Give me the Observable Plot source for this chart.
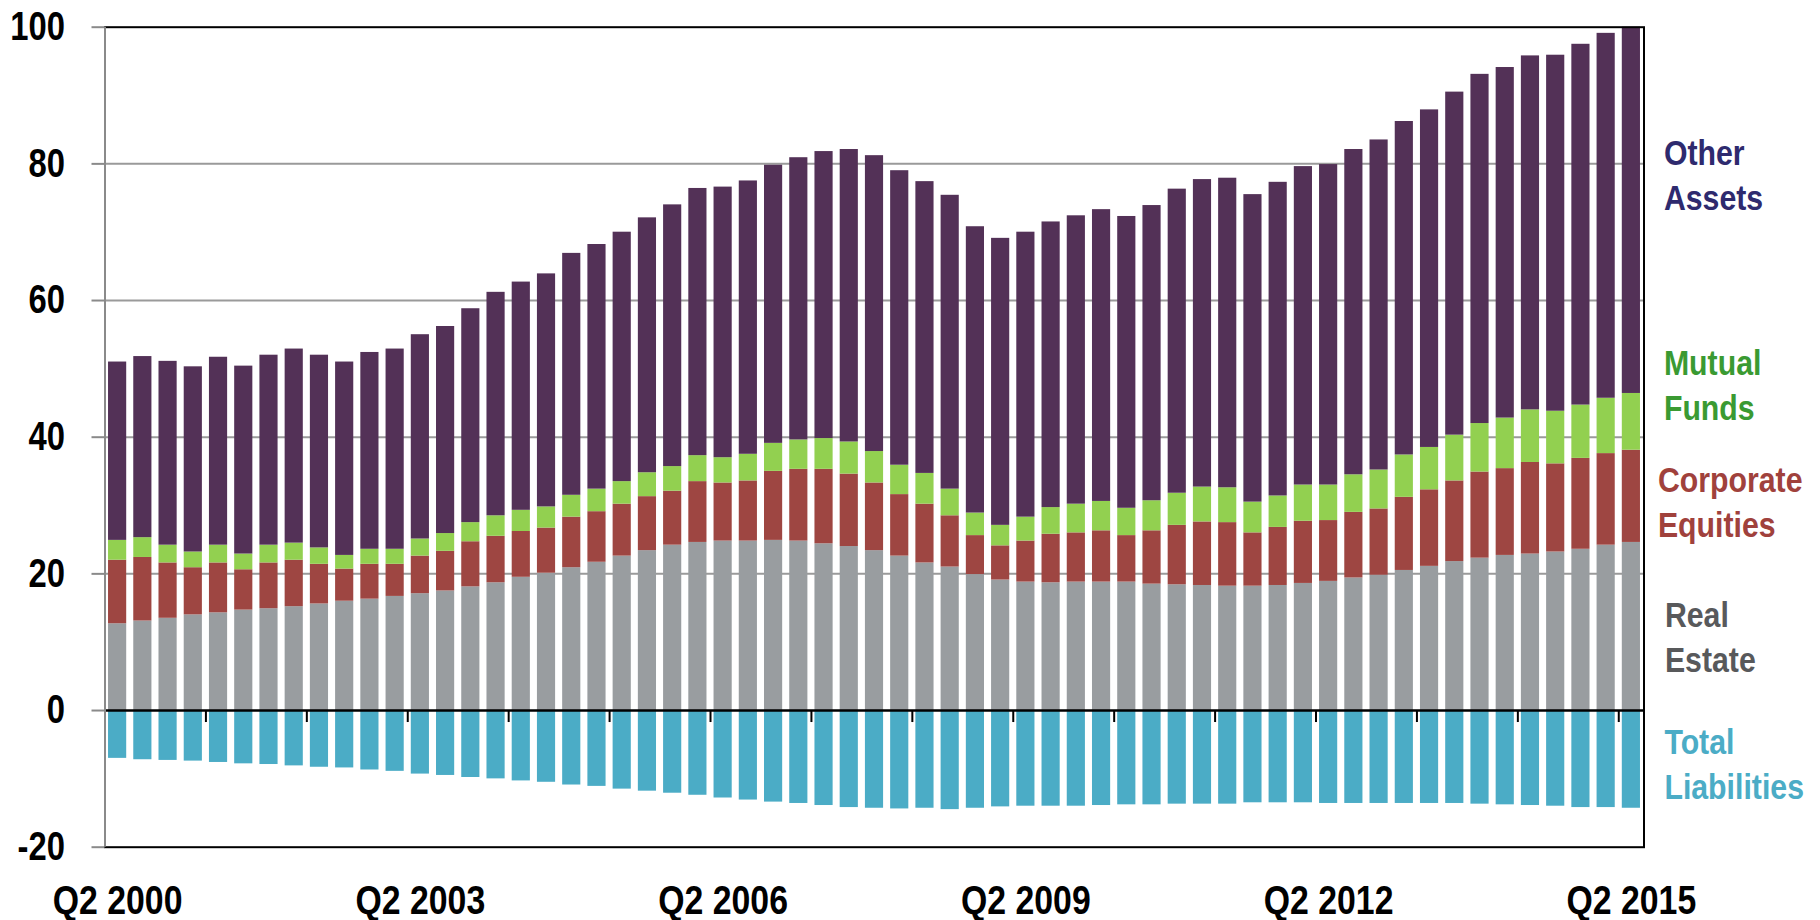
<!DOCTYPE html>
<html>
<head>
<meta charset="utf-8">
<script src="https://cdn.jsdelivr.net/npm/d3@7"></script>
<script src="https://cdn.jsdelivr.net/npm/@observablehq/plot@0.6"></script>
<style>
  html, body { margin: 0; padding: 0; background: #fff; }
  #chart svg { display: block; }
</style>
</head>
<body>
<div id="chart"></div>
<script>
// ---- data ----
const quarters = [];
for (let y = 2000; y <= 2015; y++) {
  for (let q = 1; q <= 4; q++) {
    if ((y === 2000 && q < 2) || (y === 2015 && q > 2)) continue;
    quarters.push(`Q${q} ${y}`);
  }
}
const seriesNames = ["Real Estate", "Corporate Equities", "Mutual Funds", "Other Assets", "Total Liabilities"];
const realEstate = [12.7,13.1,13.5,14.0,14.3,14.7,14.9,15.2,15.6,16.0,16.3,16.7,17.1,17.5,18.1,18.7,19.5,20.1,20.9,21.7,22.6,23.4,24.2,24.6,24.8,24.8,24.9,24.8,24.4,24.0,23.4,22.6,21.6,21.0,19.9,19.1,18.8,18.7,18.8,18.8,18.8,18.5,18.4,18.3,18.2,18.2,18.3,18.6,18.9,19.4,19.8,20.5,21.1,21.8,22.3,22.7,22.9,23.2,23.6,24.2,24.6];
const corporateEquities = [9.3,9.3,8.1,6.9,7.3,5.9,6.7,6.8,5.8,4.7,5.1,4.7,5.5,5.8,6.6,6.8,6.7,6.6,7.4,7.4,7.6,7.9,7.9,8.9,8.5,8.8,10.1,10.5,10.9,10.6,9.9,9.0,8.6,7.5,5.7,5.0,6.0,7.1,7.2,7.5,6.8,7.8,8.7,9.3,9.3,7.8,8.5,9.1,8.9,9.6,9.7,10.7,11.2,11.8,12.6,12.7,13.4,12.9,13.3,13.4,13.5];
const mutualFunds = [2.9,2.9,2.6,2.3,2.6,2.3,2.6,2.5,2.4,2.0,2.2,2.2,2.5,2.6,2.8,3.0,3.1,3.1,3.2,3.3,3.3,3.5,3.6,3.8,3.7,3.9,4.1,4.3,4.5,4.7,4.6,4.3,4.5,3.9,3.3,3.0,3.5,3.9,4.2,4.3,4.0,4.4,4.7,5.1,5.1,4.5,4.6,5.3,5.2,5.5,5.7,6.2,6.2,6.7,7.1,7.4,7.7,7.7,7.8,8.1,8.3];
const otherAssets = [26.1,26.5,26.9,27.1,27.5,27.5,27.8,28.4,28.2,28.3,28.8,29.3,29.9,30.3,31.3,32.7,33.4,34.1,35.4,35.8,36.5,37.3,38.3,39.1,39.6,40.0,40.7,41.3,42.0,42.8,43.3,43.1,42.7,43.0,41.9,42.0,41.7,41.8,42.2,42.7,42.7,43.2,44.5,45.0,45.3,45.0,45.9,46.6,46.9,47.6,48.3,48.8,49.4,50.2,51.1,51.3,51.8,52.1,52.8,53.4,53.6];
const totalLiabilities = [-7.0,-7.2,-7.3,-7.4,-7.6,-7.8,-7.9,-8.1,-8.3,-8.4,-8.7,-8.9,-9.3,-9.5,-9.8,-10.0,-10.3,-10.5,-10.9,-11.1,-11.5,-11.8,-12.1,-12.4,-12.8,-13.1,-13.4,-13.6,-13.9,-14.2,-14.3,-14.4,-14.3,-14.5,-14.3,-14.1,-14.0,-14.0,-14.0,-13.9,-13.8,-13.8,-13.7,-13.7,-13.7,-13.5,-13.5,-13.5,-13.6,-13.6,-13.6,-13.6,-13.6,-13.6,-13.7,-13.8,-13.9,-14.0,-14.2,-14.2,-14.3];
const yTicks = [-20, 0, 20, 40, 60, 80, 100];
const xTickLabels = ["Q2 2000", "Q2 2003", "Q2 2006", "Q2 2009", "Q2 2012", "Q2 2015"];
const xTickMarks = ["Q2 2000","Q2 2001","Q2 2002","Q2 2003","Q2 2004","Q2 2005","Q2 2006","Q2 2007","Q2 2008","Q2 2009","Q2 2010","Q2 2011","Q2 2012","Q2 2013","Q2 2014","Q2 2015"];
const legendLabels = ["Other\nAssets", "Mutual\nFunds", "Corporate\nEquities", "Real\nEstate", "Total\nLiabilities"];

// ---- build tidy table ----
const seriesValues = [realEstate, corporateEquities, mutualFunds, otherAssets, totalLiabilities];
const rows = [];
seriesNames.forEach((s, k) => quarters.forEach((q, i) => rows.push({quarter: q, series: s, value: seriesValues[k][i]})));

const colors = {
  "Real Estate": "#999da0",
  "Corporate Equities": "#9e4642",
  "Mutual Funds": "#92d050",
  "Other Assets": "#533157",
  "Total Liabilities": "#4bacc6"
};
const labelColors = ["#2e2a6e", "#3a9a32", "#a0413c", "#58595b", "#4bacc6"];
// legend block anchors (baseline of the bottom line), in y units, and pixel offsets
const legendY = [73.2, 42.5, 25.4, 5.7, -13.0];
const legendDx = [32.5, 32.5, 26.5, 33.5, 33];

const W = 1820, H = 920, mL = 104.5, mR = 176.5, mT = 26.7, mB = 73.3;
const step = (W - mL - mR) / quarters.length;
const FONT = "'Liberation Sans', Arial, sans-serif";

const chart = Plot.plot({
  width: W,
  height: H,
  marginLeft: mL,
  marginRight: mR,
  marginTop: mT,
  marginBottom: mB,
  style: {fontFamily: FONT, fontWeight: "bold", background: "#fff", color: "#000", overflow: "visible"},
  x: {type: "band", domain: quarters, paddingInner: 0.28, paddingOuter: 0.14, round: false},
  y: {domain: [-20, 100]},
  marks: [
    Plot.gridY([20, 40, 60, 80], {stroke: "#9a9a9a", strokeOpacity: 1, strokeWidth: 2}),
    Plot.barY(rows, {
      x: "quarter", y: "value", z: "series",
      fill: d => colors[d.series],
      order: seriesNames
    }),
    Plot.ruleY([0], {stroke: "#000", strokeWidth: 2.5}),
    Plot.ruleX(xTickMarks, {x: d => d, y1: 0, y2: 0, insetBottom: -12, dx: -step / 2, stroke: "#000", strokeWidth: 2}),
    Plot.frame({stroke: "#000", strokeWidth: 2}),
    Plot.ruleX([quarters[0]], {x: d => d, y1: -20, y2: 100, dx: -step / 2, stroke: "#8a8a8a", strokeWidth: 2}),
    Plot.axisY(yTicks, {
      tickSize: 13, tickPadding: 27, stroke: "#8a8a8a", strokeWidth: 2, label: null,
      fill: "#000", fontSize: 40, fontWeight: "bold", tickFormat: d => String(d)
    }),
    Plot.axisX(xTickLabels, {
      tickSize: 0, tickPadding: 38, fill: "#000", fontSize: 40, fontWeight: "bold", label: null
    }),
    ...legendLabels.map((lab, i) => Plot.text([lab], {
      x: () => quarters[quarters.length - 1],
      y: () => legendY[i],
      text: d => d,
      fill: labelColors[i],
      dx: legendDx[i],
      textAnchor: "start",
      lineAnchor: "bottom",
      lineHeight: 1.286,
      fontSize: 35,
      fontWeight: "bold"
    }))
  ]
});
document.getElementById("chart").appendChild(chart);

// Narrow the bold face horizontally (Arial Narrow look), scaling each text about its anchor.
chart.querySelectorAll("text").forEach(t => {
  const s = t.querySelector("tspan") ? 0.865 : /Q/.test(t.textContent) ? 0.845 : 0.82;
  const x = parseFloat(t.getAttribute("x")) || 0;
  const tr = t.getAttribute("transform") || "";
  t.setAttribute("transform", `${tr} translate(${x},0) scale(${s},1) translate(${-x},0)`);
});
</script>
</body>
</html>
